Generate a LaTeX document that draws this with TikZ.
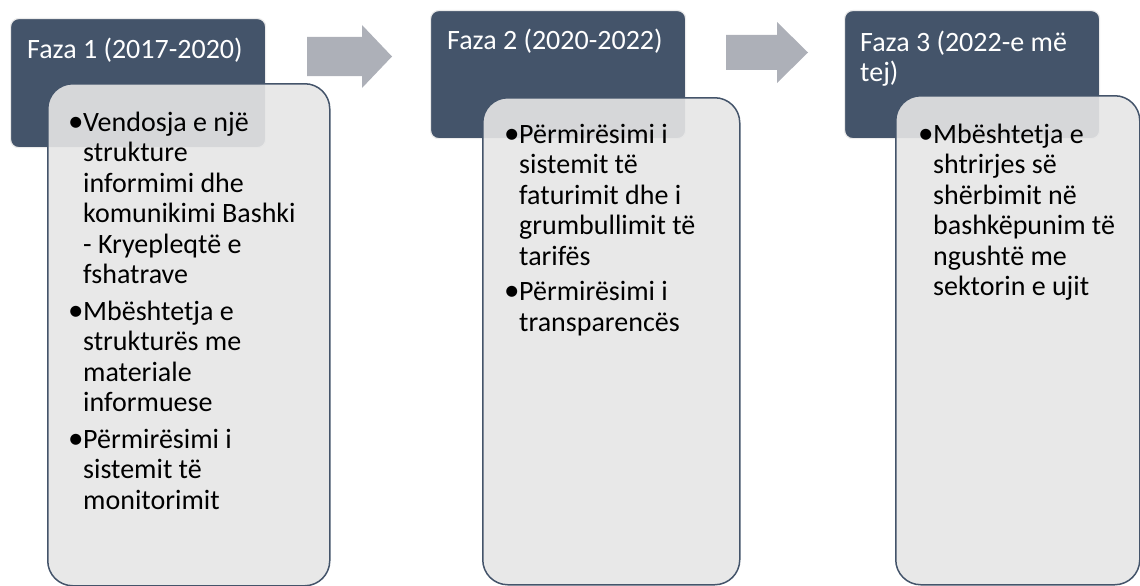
\documentclass[tikz,border=0pt]{standalone}
\usepackage{fontspec}
\setmainfont{Carlito}
\definecolor{darkslate}{HTML}{44546A}
\definecolor{lightfill}{HTML}{E6E6E6}
\definecolor{arrowgray}{HTML}{ADB0B8}
\newcommand{\bul}{\llap{{\fontsize{31}{30.5}\selectfont •}\kern-0.3pt}}
\begin{document}
\begin{tikzpicture}[x=1pt,y=-1pt,
  phasebox/.style={fill=darkslate, draw=black!8, line width=1.2pt, rounded corners=8pt, inner sep=0pt, anchor=north west},
  detailbox/.style={fill=lightfill, fill opacity=0.9, draw=darkslate, draw opacity=1, line width=1.5pt, rounded corners=25pt, inner sep=0pt, anchor=north west},
  blockarrow/.style={fill=arrowgray, draw=none},
  titletext/.style={text=white, font=\fontsize{28}{30.5}\selectfont, inner sep=0pt, anchor=north west, align=left},
  bodytext/.style={text=black, font=\fontsize{28}{30.5}\selectfont, inner sep=0pt, anchor=north west, align=left},
]
\useasboundingbox (0,0) rectangle (1140,586);

% block arrows
\fill[blockarrow] (307,37) -- (362,37) -- (362,25) -- (392,56.5) -- (362,88) -- (362,76) -- (307,76) -- cycle;
\fill[blockarrow] (726,35) -- (777,35) -- (777,22) -- (808,52.5) -- (777,83) -- (777,70) -- (726,70) -- cycle;

% phase boxes
\node[phasebox, minimum width=255pt, minimum height=129pt] (p1) at (10,18) {};
\node[phasebox, minimum width=255pt, minimum height=128pt] (p2) at (430,10) {};
\node[phasebox, minimum width=255pt, minimum height=128pt] (p3) at (844,10) {};

% detail boxes
\node[detailbox, minimum width=282pt, minimum height=502pt] (d1) at (47,83) {};
\node[detailbox, minimum width=257pt, minimum height=487pt] (d2) at (482,97) {};
\node[detailbox, minimum width=244pt, minimum height=489pt] (d3) at (895,95) {};

% titles
\node[titletext] (t1) at (27,36) {\rule{0pt}{22pt}Faza 1 (2017-2020)};
\node[titletext] (t2) at (447,27) {\rule{0pt}{22pt}Faza 2 (2020-2022)};
\node[titletext] (t3) at (860,29) {\rule{0pt}{22pt}Faza 3 (2022-e më\\tej)};

% bodies
\node[bodytext] (b1) at (83,109) {\rule{0pt}{22pt}\bul Vendosja e një\\
strukture\\
informimi dhe\\
komunikimi Bashki\\
- Kryepleqtë e\\
fshatrave\\[6pt]
\bul Mbështetja e\\
strukturës me\\
materiale\\
informuese\\[6pt]
\bul Përmirësimi i\\
sistemit të\\
monitorimit};

\node[bodytext] (b2) at (519,121) {\rule{0pt}{22pt}\bul Përmirësimi i\\
sistemit të\\
faturimit dhe i\\
grumbullimit të\\
tarifës\\[5pt]
\bul Përmirësimi i\\
transparencës};

\node[bodytext] (b3) at (933,121) {\rule{0pt}{22pt}\bul Mbështetja e\\
shtrirjes së\\
shërbimit në\\
bashkëpunim të\\
ngushtë me\\
sektorin e ujit};
\end{tikzpicture}
\end{document}
